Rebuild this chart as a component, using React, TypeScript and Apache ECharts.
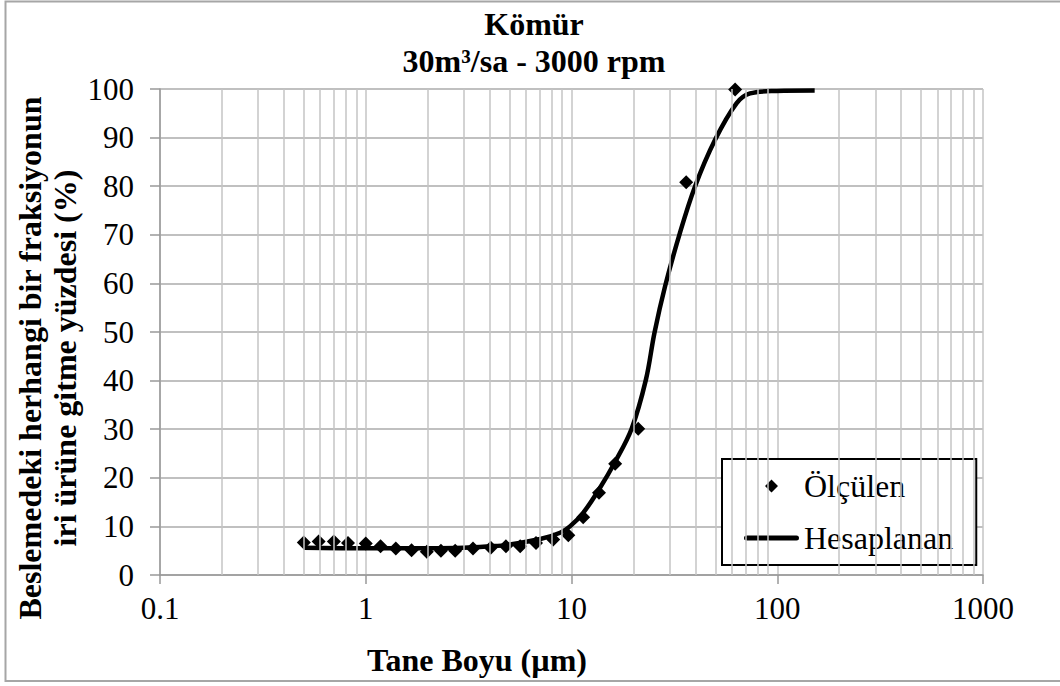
import React, { useEffect, useRef } from "react";
import * as echarts from "echarts";

const FONT = "'Liberation Serif', 'Times New Roman', serif";

const titleLines = ["Kömür", "30m³/sa - 3000 rpm"];
const xAxisTitle = "Tane Boyu (µm)";
const yAxisTitleLines = ["Beslemedeki herhangi bir fraksiyonun", "iri ürüne gitme yüzdesi (%)"];
const seriesNames = ["Ölçülen", "Hesaplanan"];

// measured points (particle size µm, %)
const measuredSize = [0.5, 0.59, 0.7, 0.82, 1.0, 1.18, 1.4, 1.67, 1.98, 2.32, 2.72, 3.32, 4.05, 4.8, 5.63, 6.72, 8.15, 9.65, 11.4, 13.6, 16.3, 21.1, 36.1, 62.4];
const measuredPct = [6.7, 6.9, 6.9, 6.6, 6.5, 5.9, 5.45, 5.1, 4.8, 5.0, 5.0, 5.45, 5.6, 5.9, 5.9, 6.6, 7.3, 8.2, 11.9, 16.9, 22.9, 30.1, 80.8, 99.9];

// calculated curve
const calcSize = [0.5, 1, 2, 3, 4, 4.86, 7.05, 8.8, 9.83, 11.4, 13.6, 16.3, 19.6, 23.0, 25.3, 28.5, 33.6, 39.8, 49.8, 63.5, 73.8, 99.3, 152];
const calcPct = [5.6, 5.5, 5.5, 5.6, 5.9, 6.2, 7.4, 8.7, 10.0, 12.8, 17.6, 23.3, 30.1, 40.2, 49.8, 59.4, 70.3, 79.9, 89.5, 97.1, 99.1, 99.6, 99.7];

// minor log grid lines
const minorGridValues = [
  0.2, 0.3, 0.4, 0.5, 0.6, 0.7, 0.8, 0.9,
  2, 3, 4, 5, 6, 7, 8, 9,
  20, 30, 40, 50, 60, 70, 80, 90,
  200, 300, 400, 500, 600, 700, 800, 900,
];

// legend icons: degenerate corner sub-paths fix the bounding box to 55x13
const ICON_FRAME = "M0,0L0.01,0L0,0.01ZM55,13L54.99,13L55,12.99Z";
const diamondIcon = "path://" + ICON_FRAME + "M27.5,0L34,6.5L27.5,13L21,6.5Z";
const lineIcon = "path://" + ICON_FRAME + "M2.5,4L52.5,4A2.5,2.5,0,0,1,52.5,9L2.5,9A2.5,2.5,0,0,1,2.5,4Z";

export default function App() {
  const ref = useRef<HTMLDivElement>(null);
  useEffect(() => {
    document.body.style.margin = "0";
    const chart = echarts.init(ref.current!, undefined, { renderer: "svg" });
    const option: any = {
      animation: false,
      backgroundColor: "#fff",
      title: {
        text: titleLines.join("\n"),
        left: 534,
        top: 5,
        textAlign: "center",
        padding: 0,
        textStyle: {
          fontFamily: FONT,
          fontSize: 32,
          fontWeight: "bold",
          color: "#000",
          lineHeight: 37,
        },
      },
      grid: { left: 160, right: 77, top: 89, bottom: 111, containLabel: false },
      legend: {
        orient: "vertical",
        left: 722,
        top: 459,
        padding: [11, 23, 11, 22],
        itemGap: 20,
        itemWidth: 55,
        itemHeight: 13,
        borderColor: "#000",
        borderWidth: 2,
        backgroundColor: "#fff",
        symbolKeepAspect: false,
        itemStyle: { borderWidth: 0 },
        data: [
          { name: seriesNames[0], icon: diamondIcon },
          { name: seriesNames[1], icon: lineIcon },
        ],
        textStyle: { fontFamily: FONT, fontSize: 32, color: "#000", overflow: "none" },
      },
      xAxis: {
        type: "log",
        logBase: 10,
        min: 0.1,
        max: 1000,
        axisLine: { show: true, onZero: false, lineStyle: { color: "#999", width: 1.5 } },
        axisTick: { show: true, length: 9, lineStyle: { color: "#999", width: 1.5 } },
        axisLabel: {
          margin: 18,
          fontFamily: FONT,
          fontSize: 31,
          color: "#000",
          formatter: (v: number) => (v < 1 ? v.toFixed(1) : String(Math.round(v))),
        },
        splitLine: { show: true, lineStyle: { color: "#c4c4c4", width: 1.5 } },
      },
      yAxis: {
        type: "value",
        min: 0,
        max: 100,
        interval: 10,
        axisLine: { show: true, lineStyle: { color: "#999", width: 1.5 } },
        axisTick: { show: true, length: 10, lineStyle: { color: "#999", width: 1.5 } },
        axisLabel: { margin: 26, fontFamily: FONT, fontSize: 31, color: "#000" },
        splitLine: { show: true, lineStyle: { color: "#ababab", width: 1.5 } },
      },
      graphic: [
        {
          type: "rect",
          silent: true,
          shape: { x: 5.5, y: 1.5, width: 1100, height: 679.5 },
          style: { fill: "none", stroke: "#a6a6a6", lineWidth: 2 },
          z: -10,
        },
        {
          type: "text",
          x: 477,
          y: 660,
          style: {
            text: xAxisTitle,
            fontFamily: FONT,
            fontSize: 32,
            fontWeight: "bold",
            fill: "#000",
            align: "center",
            verticalAlign: "middle",
          },
        },
        {
          type: "text",
          x: 47,
          y: 358,
          rotation: Math.PI / 2,
          style: {
            text: yAxisTitleLines.join("\n"),
            fontFamily: FONT,
            fontSize: 32,
            fontWeight: "bold",
            fill: "#000",
            align: "center",
            verticalAlign: "middle",
            lineHeight: 35,
          },
        },
      ],
      series: [
        {
          name: "minorGrid",
          type: "line",
          data: [],
          silent: true,
          z: 1,
          markLine: {
            silent: true,
            symbol: ["none", "none"],
            label: { show: false },
            lineStyle: { color: "#c4c4c4", width: 1.5, type: "solid" },
            emphasis: { disabled: true },
            data: minorGridValues.map((v) => ({ xAxis: v })),
          },
        },
        {
          name: seriesNames[1],
          type: "line",
          smooth: 0.35,
          symbol: "none",
          z: 3,
          lineStyle: { color: "#000", width: 4.5 },
          itemStyle: { color: "#000" },
          data: calcSize.map((x, i) => [x, calcPct[i]]),
        },
        {
          name: seriesNames[0],
          type: "scatter",
          symbol: "diamond",
          symbolSize: 14,
          z: 4,
          itemStyle: { color: "#000", opacity: 1 },
          data: measuredSize.map((x, i) => [x, measuredPct[i]]),
        },
      ],
    };
    chart.setOption(option);
    return () => chart.dispose();
  }, []);
  return <div ref={ref} style={{ width: 1060, height: 686 }} />;
}
